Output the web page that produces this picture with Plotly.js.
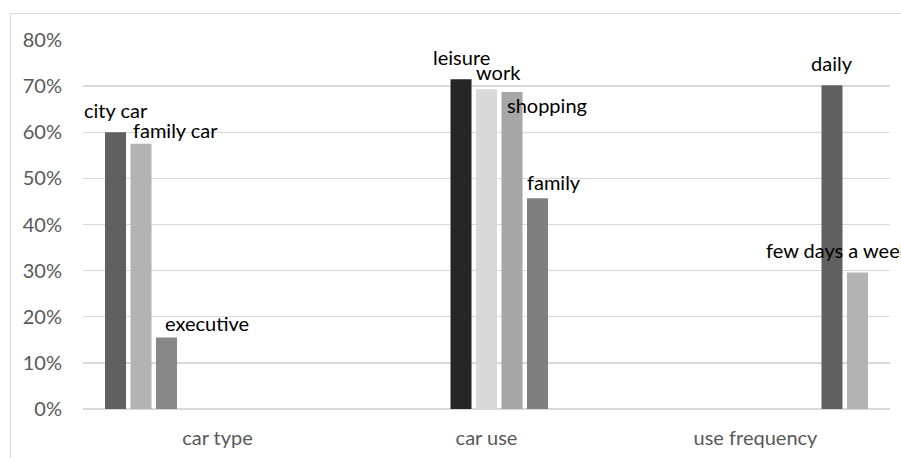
<!DOCTYPE html>
<html><head><meta charset="utf-8">
<script src="https://cdn.plot.ly/plotly-3.0.1.min.js"></script>
<style>
html,body{margin:0;padding:0;background:#fff;}
#wrap{position:relative;width:901px;height:458px;overflow:hidden;}
#chart{width:901px;height:458px;}
#frame{position:absolute;left:10px;top:13px;width:1000px;height:600px;border:1px solid #d9d9d9;pointer-events:none;}
</style></head>
<body><div id="wrap"><div id="chart"></div><div id="frame"></div></div>
<script>
const categories = ["car type", "car use", "use frequency"];
const seriesNames = ["city car", "family car", "executive", "leisure", "work", "shopping", "family", "daily", "few days a week"];
const seriesCategory = ["car type", "car type", "car type", "car use", "car use", "car use", "car use", "use frequency", "use frequency"];
const seriesValues = [0.60, 0.575, 0.155, 0.715, 0.693, 0.687, 0.457, 0.702, 0.296];
const yTickVals = [0, 0.1, 0.2, 0.3, 0.4, 0.5, 0.6, 0.7, 0.8];

// styles
const colors = ["#606060", "#b3b3b3", "#878787", "#262626", "#d9d9d9", "#a6a6a6", "#7f7f7f", "#606060", "#b3b3b3"];
const labelNudgeX = [0, 34, 40, 0, 12, 35, 17, 0, -19];
const labelNudgeY = [22, 14, 15, 22, 17, -13, 16, 22, 22];
const BARGAP = 0.147, GROUPGAP = 0.176;
const FONT = "Lato, 'Open Sans', sans-serif";

const traces = seriesNames.map((name, i) => ({
  type: "bar",
  name: name,
  x: categories,
  y: categories.map(c => c === seriesCategory[i] ? seriesValues[i] : null),
  marker: {color: colors[i]},
  hoverinfo: "skip"
}));

const n = seriesNames.length;
const slotW = (1 - BARGAP) / n;
const annotations = seriesNames.map((name, i) => ({
  xref: "x", yref: "y",
  x: categories.indexOf(seriesCategory[i]) + (i - (n - 1) / 2) * slotW,
  y: seriesValues[i],
  text: name,
  showarrow: false,
  xanchor: "center", yanchor: "middle",
  xshift: labelNudgeX[i], yshift: labelNudgeY[i],
  font: {family: FONT, size: 20, color: "#000"}
}));

const layout = {
  width: 901, height: 458,
  margin: {l: 83, r: 11, t: 40, b: 49},
  paper_bgcolor: "#fff", plot_bgcolor: "#fff",
  barmode: "group", bargap: BARGAP, bargroupgap: GROUPGAP,
  showlegend: false,
  font: {family: FONT, color: "#595959"},
  xaxis: {
    type: "category", categoryarray: categories, categoryorder: "array",
    range: [-0.5, categories.length - 0.5], autorange: false,
    showgrid: false, zeroline: false, showline: false, ticks: "",
    tickfont: {family: FONT, size: 20, color: "#595959"},
    ticklabelstandoff: 15
  },
  yaxis: {
    range: [0, 0.8], tickvals: yTickVals, tickformat: ".0%",
    showgrid: true, gridcolor: "#d9d9d9", gridwidth: 1.3,
    zeroline: true, zerolinecolor: "#d9d9d9", zerolinewidth: 1.3,
    showline: false, ticks: "",
    tickfont: {family: FONT, size: 20, color: "#595959"},
    ticklabelstandoff: 20
  },
  annotations: annotations
};

Plotly.newPlot("chart", traces, layout, {displayModeBar: false, staticPlot: true});
</script></body></html>
